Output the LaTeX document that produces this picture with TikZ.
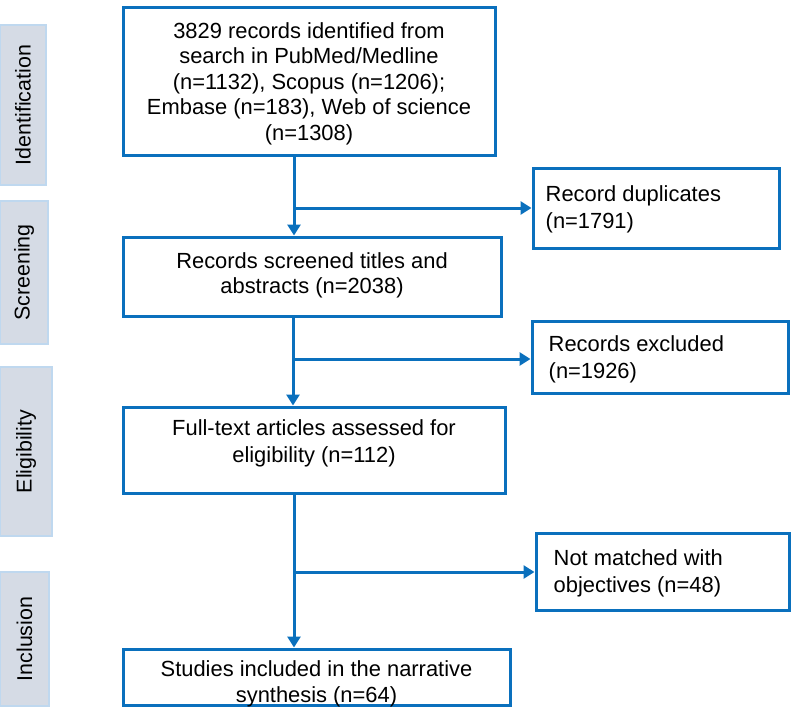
\documentclass[tikz,border=0pt]{standalone}
\usepackage{fontspec}
\setmainfont{Liberation Sans}
\usetikzlibrary{arrows.meta}
\definecolor{bblue}{HTML}{0A70BD}
\definecolor{sidefill}{HTML}{D5DBE5}
\definecolor{sideedge}{HTML}{BFD8EF}
\tikzset{
  mainbox/.style={draw=bblue, line width=3pt, fill=white, inner sep=0pt},
  maintext/.style={align=center, inner sep=0pt, font=\fontsize{21.9}{25.5}\selectfont},
  lefttext/.style={align=left, anchor=west, inner sep=0pt, font=\fontsize{21.9}{27}\selectfont},
  sidebox/.style={draw=sideedge, line width=1.5pt, fill=sidefill, inner sep=0pt},
  sidetext/.style={rotate=90, inner sep=0pt, font=\fontsize{21.4}{25}\selectfont},
  conn/.style={draw=bblue, line width=3pt},
  arr/.style={conn, -{Triangle[length=11pt,width=13pt]}},
}
\newcommand{\boxat}[6]{% name, x1, y1, x2, y2, style
  \node[#6, minimum width={#4-#2}, minimum height={#5-#3}] (#1) at ({(#2+#4)/2},{(#3+#5)/2}) {};}
\begin{document}
\begin{tikzpicture}[x=1pt,y=-1pt]
\useasboundingbox (0,0) rectangle (800,707);
% side labels
\boxat{sid}{0}{25}{46}{185}{sidebox}
\node[sidetext] (tid) at (sid.center) {Identification};
\boxat{ssc}{0}{201}{48}{344}{sidebox}
\node[sidetext] (tsc) at (ssc.center) {Screening};
\boxat{sel}{0}{367}{52}{536}{sidebox}
\node[sidetext] (tel) at (sel.center) {Eligibility};
\boxat{sin}{0}{572}{49}{706}{sidebox}
\node[sidetext] (tin) at (sin.center) {Inclusion};
% main boxes
\boxat{b1}{123}{7}{495}{155}{mainbox}
\node[maintext, yshift=-2.5pt] (b1t) at (b1.center) {3829 records identified from\\search in PubMed/Medline\\(n=1132), Scopus (n=1206);\\Embase (n=183), Web of science\\(n=1308)};
\boxat{b2}{123}{237}{501}{316}{mainbox}
\node[maintext, yshift=1pt] (b2t) at (b2.center) {Records screened titles and\\abstracts (n=2038)};
\boxat{b3}{123}{407}{505}{493}{mainbox}
\node[maintext, yshift=7pt, font=\fontsize{21.9}{27}\selectfont] (b3t) at (b3.center) {Full-text articles assessed for\\eligibility (n=112)};
\boxat{b4}{123}{649}{510}{705}{mainbox}
\node[maintext, yshift=-7pt] (b4t) at (b4.center) {Studies included in the narrative\\synthesis (n=64)};
% side boxes
\boxat{d1}{533}{168}{779}{248}{mainbox}
\node[lefttext, xshift=14pt, yshift=-1pt] (d1t) at (d1.west) {Record duplicates\\(n=1791)};
\boxat{d2}{532}{321}{788}{393}{mainbox}
\node[lefttext, xshift=18pt, yshift=-2pt] (d2t) at (d2.west) {Records excluded\\(n=1926)};
\boxat{d3}{536}{533}{789}{610}{mainbox}
\node[lefttext, xshift=19pt, yshift=-2pt] (d3t) at (d3.west) {Not matched with\\objectives (n=48)};
% connectors
\coordinate (j1) at (294,208);
\coordinate (j2) at (293,359);
\coordinate (j3) at (294,572);
\draw[conn] (b1.south -| j1) -- (j1);
\draw[arr] (j1) -- (b2.north -| j1);
\draw[arr] (j1) -- (d1.west |- j1);
\draw[conn] (b2.south -| j2) -- (j2);
\draw[arr] (j2) -- (b3.north -| j2);
\draw[arr] (j2) -- (d2.west |- j2);
\draw[conn] (b3.south -| j3) -- (j3);
\draw[arr] (j3) -- (b4.north -| j3);
\draw[arr] (j3) -- (d3.west |- j3);
\end{tikzpicture}
\end{document}
